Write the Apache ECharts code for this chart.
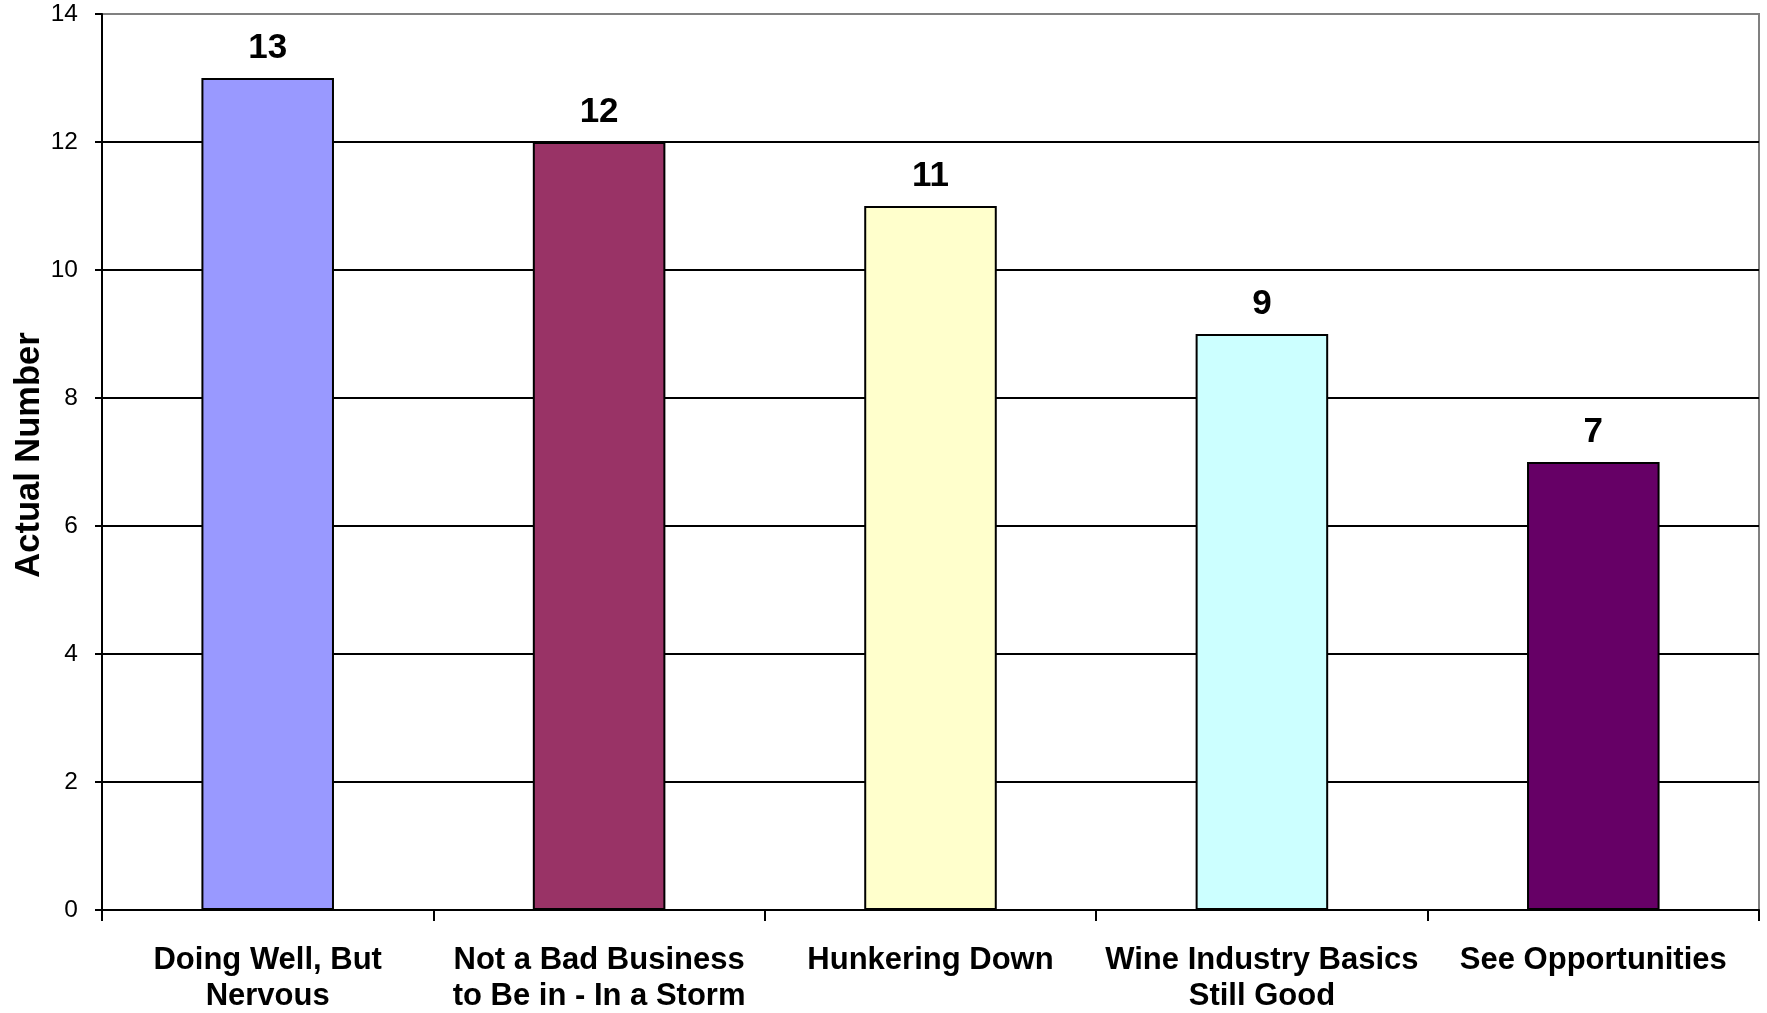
<!DOCTYPE html>
<html>
<head>
<meta charset="utf-8">
<script src="https://cdn.jsdelivr.net/npm/echarts@6/dist/echarts.min.js"></script>
<style>
  html, body { margin: 0; padding: 0; background: #fff; }
  #chart { width: 1767px; height: 1013px; }
</style>
</head>
<body>
<div id="chart"></div>
<script>
// Survey responses: how businesses describe their current outlook
const categories = [
  'Doing Well, But\nNervous',
  'Not a Bad Business\nto Be in - In a Storm',
  'Hunkering Down',
  'Wine Industry Basics\nStill Good',
  'See Opportunities'
];
const counts = [13, 12, 11, 9, 7];
const barColors = ['#9999FF', '#993366', '#FFFFCC', '#CCFFFF', '#660066'];
const yTicks = { min: 0, max: 14, interval: 2 };

const font = 'Arial, "Liberation Sans", sans-serif';

const chart = echarts.init(document.getElementById('chart'), null, { renderer: 'canvas' });

chart.setOption({
  animation: false,
  backgroundColor: '#ffffff',
  grid: {
    left: 102, top: 14, width: 1657, height: 896,
    containLabel: false,
    outerBoundsMode: 'none',
    show: true, borderColor: '#808080', borderWidth: 2, backgroundColor: 'transparent'
  },
  xAxis: {
    type: 'category',
    data: categories,
    boundaryGap: true,
    axisLine: { show: true, lineStyle: { color: '#000', width: 2 } },
    axisTick: { show: true, length: 11, interval: 0, lineStyle: { color: '#000', width: 2 } },
    axisLabel: {
      interval: 0, margin: 32, color: '#000',
      fontFamily: font, fontWeight: 'bold', fontSize: 31, lineHeight: 36
    },
    splitLine: { show: false }
  },
  yAxis: {
    type: 'value',
    min: yTicks.min, max: yTicks.max, interval: yTicks.interval,
    name: 'Actual Number',
    nameLocation: 'middle',
    nameRotate: 90,
    nameGap: 55,
    nameMoveOverlap: false,
    nameTextStyle: {
      fontFamily: font, fontWeight: 'bold', fontSize: 34.5, color: '#000',
      padding: [0, 0, 0, 14]
    },
    axisLine: { show: true, lineStyle: { color: '#000', width: 2 } },
    axisTick: { show: true, length: 7, lineStyle: { color: '#000', width: 2 } },
    axisLabel: { margin: 24, color: '#000', fontFamily: font, fontSize: 24.5 },
    splitLine: {
      show: true,
      lineStyle: {
        color: ['#000', '#000', '#000', '#000', '#000', '#000', '#000', '#808080'],
        width: 2
      }
    }
  },
  series: [{
    type: 'bar',
    data: counts.map((v, i) => ({ value: v, itemStyle: { color: barColors[i] } })),
    barWidth: '40%',
    itemStyle: { borderColor: '#000', borderWidth: 2 },
    label: {
      show: true, position: 'top', distance: 12,
      fontFamily: font, fontWeight: 'bold', fontSize: 35, color: '#000'
    }
  }]
});
</script>
</body>
</html>
